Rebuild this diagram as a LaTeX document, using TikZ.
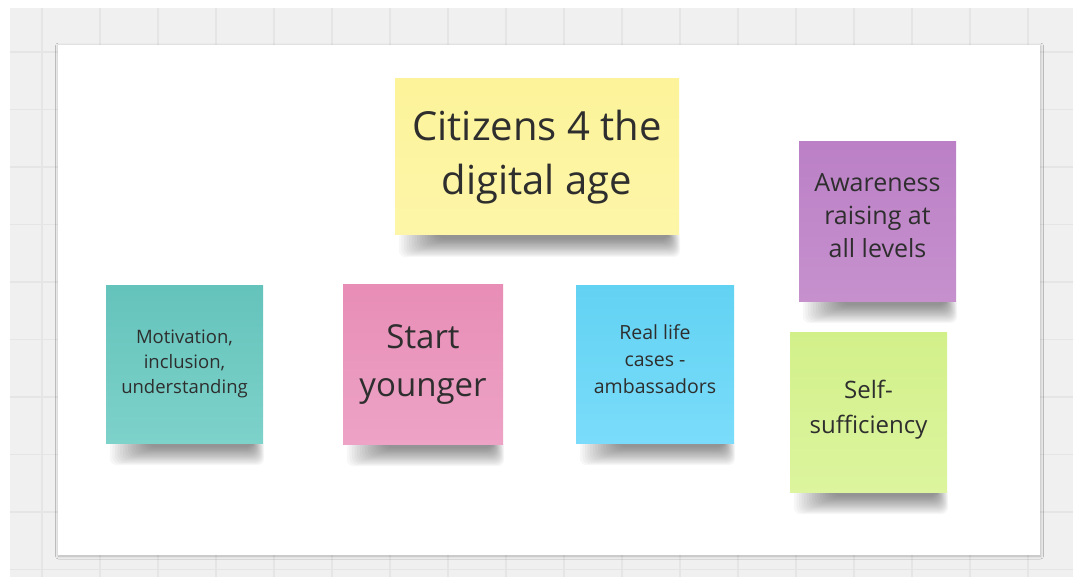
\documentclass[tikz,border=0pt]{standalone}
\usepackage{fontspec}
\setmainfont{Open Sans}
\usetikzlibrary{shadows.blur}
\definecolor{canvas}{HTML}{F0F0F0}
\definecolor{gridline}{HTML}{E5E5E5}
\definecolor{inkcol}{HTML}{2E2E2E}
\definecolor{yelTop}{HTML}{FCF39A}\definecolor{yelBot}{HTML}{FDF6A8}
\definecolor{tealTop}{HTML}{64C3BB}\definecolor{tealBot}{HTML}{7DD2CA}
\definecolor{pinkTop}{HTML}{E88DB6}\definecolor{pinkBot}{HTML}{EDA3C6}
\definecolor{blueTop}{HTML}{62D2F3}\definecolor{blueBot}{HTML}{7ADCFA}
\definecolor{purpTop}{HTML}{BB80C6}\definecolor{purpBot}{HTML}{C690CD}
\definecolor{limeTop}{HTML}{D2F08A}\definecolor{limeBot}{HTML}{DCF59E}
\pgfdeclarelayer{bg}
\pgfdeclarelayer{shade}
\pgfsetlayers{bg,shade,main}
\tikzset{
  note/.style={rectangle, inner sep=0pt, align=center, text=inkcol},
  board/.style={fill=white, blur shadow={shadow xshift=0.5pt, shadow yshift=-1pt,
      shadow blur radius=3pt, shadow opacity=25}},
  shadelayer/.style={black, opacity=0.032, rounded corners=7pt}
}
% soft drop shadow under the lower edge of a note
\newcommand\noteshade[1]{%
  \foreach \k in {0,...,15}{%
    \fill[shadelayer] ([xshift={4+2.6*\k}, yshift=4]#1.south west)
      rectangle ([xshift={1-0.8*\k}, yshift={-22+1.2*\k}]#1.south east);}}
\begin{document}
\begin{tikzpicture}[x=1pt,y=-1pt]
\useasboundingbox (0,0) rectangle (1073,577);
\begin{pgfonlayer}{bg}
% canvas with grid
\fill[white] (0,0) rectangle (1073,577);
\fill[canvas] (10,8) rectangle (1073,577);
\begin{scope}
\clip (10,8) rectangle (1073,577);
\foreach \gx in {0,...,18} \draw[gridline, line width=1.6pt] (42+58*\gx,8) -- (42+58*\gx,577);
\foreach \gy in {0,...,9} \draw[gridline, line width=1.6pt] (10,52+57.5*\gy) -- (1073,52+57.5*\gy);
\end{scope}
% white board
\path[board] (58,45) rectangle (1040,555);
\end{pgfonlayer}
% sticky notes
\node[note, minimum width=284pt, minimum height=156pt, top color=yelTop, bottom color=yelBot,
  font=\fontsize{40}{54}\selectfont] (title) at (537,157) {Citizens 4 the\\digital age};
\node[note, minimum width=157pt, minimum height=158pt, top color=tealTop, bottom color=tealBot,
  font=\fontsize{18.5}{25}\selectfont] (motiv) at (184.5,364) {Motivation,\\inclusion,\\understanding};
\node[note, minimum width=160pt, minimum height=159pt, top color=pinkTop, bottom color=pinkBot,
  font=\fontsize{33}{48}\selectfont] (young) at (423,364.5) {Start\\younger};
\node[note, minimum width=158pt, minimum height=158pt, top color=blueTop, bottom color=blueBot,
  font=\fontsize{19.5}{27}\selectfont, text depth=10pt] (cases) at (655,364) {Real life\\cases -\\ambassadors};
\node[note, minimum width=157pt, minimum height=159pt, top color=purpTop, bottom color=purpBot,
  font=\fontsize{25}{33}\selectfont, text depth=12pt] (aware) at (877.5,221.5) {Awareness\\raising at\\all levels};
\node[note, minimum width=157pt, minimum height=160pt, top color=limeTop, bottom color=limeBot,
  font=\fontsize{24}{35}\selectfont, text depth=9.5pt] (self) at (868.5,412) {Self-\\sufficiency};
\begin{pgfonlayer}{shade}
\foreach \n in {title,motiv,young,cases,aware,self} {\noteshade{\n}}
\end{pgfonlayer}
\end{tikzpicture}
\end{document}
